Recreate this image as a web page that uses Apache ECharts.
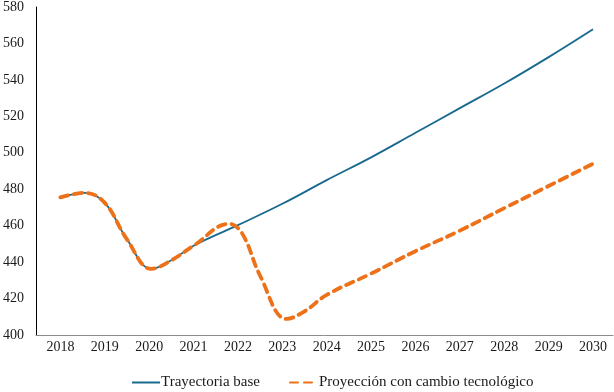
<!DOCTYPE html>
<html>
<head>
<meta charset="utf-8">
<script src="https://cdn.jsdelivr.net/npm/echarts@6/dist/echarts.min.js"></script>
<style>
  html, body { margin: 0; padding: 0; background: #fff; }
  #chart { width: 614px; height: 392px; }
</style>
</head>
<body>
<div id="chart"></div>
<script>
// year labels shown on the x axis
const yearLabels = [2018, 2019, 2020, 2021, 2022, 2023, 2024, 2025, 2026, 2027, 2028, 2029, 2030];

// base trajectory (fractional years where the curve turns)
const basePeriods = [2018, 2018.55, 2019, 2019.5, 2020.05, 2020.5, 2021, 2022, 2023, 2024, 2025, 2026, 2027, 2028, 2029, 2030];
const baseValues = [475.5, 478, 472.5, 452.5, 436.3, 441, 449, 460.3, 472, 485, 497.5, 511, 524.5, 538, 552.5, 567.8];

// projection with technological change
const techPeriods = [2018, 2018.55, 2019, 2019.5, 2020.05, 2020.5, 2021, 2021.8, 2022.1, 2022.5, 2023.1, 2023.5, 2024, 2025, 2026, 2027, 2028, 2029, 2030];
const techValues = [475.5, 478, 472.5, 452.5, 436.3, 441, 449, 461, 455.5, 432.5, 408.8, 413, 422, 433.7, 446, 457.3, 469.6, 481.8, 494];

const seriesNames = ['Trayectoria base', 'Proyección con cambio tecnológico'];

const pairs = (xs, ys) => xs.map((x, i) => [x, ys[i]]);

const font = 'Liberation Serif';
const chart = echarts.init(document.getElementById('chart'), null, { renderer: 'canvas' });

chart.setOption({
  animation: false,
  backgroundColor: '#fff',
  grid: { left: 33, right: 1, top: 7, bottom: 57, containLabel: false },
  legend: {
    top: 370,
    left: 126,
    itemWidth: 28,
    itemHeight: 10,
    itemGap: 29,
    itemStyle: { opacity: 0 },
    textStyle: { fontFamily: font, fontSize: 15, color: '#1a1a1a', padding: [0, 0, 0, -4] },
    data: seriesNames
  },
  xAxis: {
    type: 'value',
    min: 2017.45,
    max: 2030.45,
    splitLine: { show: false },
    axisTick: { show: false },
    axisLine: { show: true, lineStyle: { color: '#8c8c8c', width: 1 } },
    axisLabel: {
      customValues: yearLabels,
      formatter: v => String(v),
      margin: 5,
      fontFamily: font,
      fontSize: 14,
      color: '#1a1a1a'
    }
  },
  yAxis: {
    type: 'value',
    min: 400,
    max: 580,
    interval: 20,
    splitLine: { show: false },
    axisTick: { show: false },
    axisLine: { show: true, lineStyle: { color: '#000', width: 1 } },
    axisLabel: { margin: 12, fontFamily: font, fontSize: 14, color: '#1a1a1a' }
  },
  series: [
    {
      name: seriesNames[0],
      type: 'line',
      data: pairs(basePeriods, baseValues),
      smooth: 0.4,
      symbol: 'none',
      showSymbol: false,
      lineStyle: { color: '#17698e', width: 1.8 },
      itemStyle: { color: '#17698e' },
      z: 2
    },
    {
      name: seriesNames[1],
      type: 'line',
      data: pairs(techPeriods, techValues),
      smooth: 0.4,
      symbol: 'none',
      showSymbol: false,
      lineStyle: { color: '#ec7118', width: 3.8, type: [8, 6], cap: 'round' },
      itemStyle: { color: '#ec7118' },
      z: 3
    }
  ]
});
</script>
</body>
</html>
